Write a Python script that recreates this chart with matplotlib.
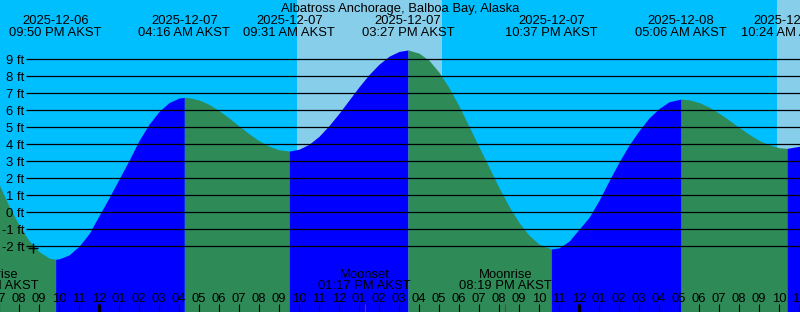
import numpy as np
import matplotlib
matplotlib.use('Agg')
import matplotlib.pyplot as plt
from matplotlib.transforms import blended_transform_factory

# Tide curve: hours since 2025-12-07 00:00 AKST, height in ft
curve_hours = [-5.0, -4.5, -4.0, -3.5, -3.0, -2.5, -2.167,
               -2.0, -1.5, -1.0, -0.5, 0.0, 0.5, 1.0, 1.5, 2.0, 2.5, 3.0, 3.5, 4.0, 4.267,
               4.5, 5.0, 5.5, 6.0, 6.5, 7.0, 7.5, 8.0, 8.5, 9.0, 9.517,
               10.0, 10.5, 11.0, 11.5, 12.0, 12.5, 13.0, 13.5, 14.0, 14.5, 15.0, 15.45,
               16.0, 16.5, 17.0, 17.5, 18.0, 18.5, 19.0, 19.5, 20.0, 20.5, 21.0, 21.5, 22.0, 22.617,
               23.0, 23.5, 24.0, 24.5, 25.0, 25.5, 26.0, 26.5, 27.0, 27.5, 28.0, 28.5, 29.1,
               29.5, 30.0, 30.5, 31.0, 31.5, 32.0, 32.5, 33.0, 33.5, 34.0, 34.4, 35.0, 35.5]
curve_feet = [1.64, 0.37, -0.75, -1.67, -2.31, -2.69, -2.76,
              -2.74, -2.51, -2.00, -1.26, -0.20, 0.85, 1.95, 3.05, 4.22, 5.18, 5.93, 6.45, 6.72, 6.76,
              6.74, 6.61, 6.35, 5.98, 5.55, 5.08, 4.62, 4.21, 3.89, 3.68, 3.60,
              3.71, 4.00, 4.47, 5.10, 5.82, 6.60, 7.38, 8.10, 8.71, 9.18, 9.46, 9.55,
              9.36, 8.94, 8.24, 7.33, 6.25, 5.05, 3.85, 2.65, 1.45, 0.35, -0.60, -1.35, -1.87, -2.16,
              -2.09, -1.70, -1.00, -0.30, 0.70, 1.85, 2.95, 3.95, 4.80, 5.55, 6.10, 6.50, 6.66,
              6.62, 6.46, 6.19, 5.83, 5.42, 5.00, 4.59, 4.23, 3.97, 3.80, 3.76, 3.88, 4.16]

# high / low tide events shown along the top
event_hours = [-2.167, 4.267, 9.517, 15.45, 22.617, 29.1, 34.4]
event_kind = ['low', 'high', 'low', 'high', 'low', 'high', 'low']
event_dates = ['2025-12-06', '2025-12-07', '2025-12-07', '2025-12-07',
               '2025-12-07', '2025-12-08', '2025-12-08']
event_times = ['09:50 PM AKST', '04:16 AM AKST', '09:31 AM AKST', '03:27 PM AKST',
               '10:37 PM AKST', '05:06 AM AKST', '10:24 AM AKST']

# moon events shown along the bottom
moon_names = ['Moonrise', 'Moonset', 'Moonrise']
moon_times = ['06:39 PM AKST', '01:17 PM AKST', '08:19 PM AKST']
moon_hours = [-5.35, 13.283, 20.317]

# daylight (sunrise, sunset)
day_spans = [(9.885, 17.135), (33.885, 40.0)]

# "now" marker
now_hour = -3.3
now_feet = -2.1

title = 'Albatross Anchorage, Balboa Bay, Alaska'
grid_feet = list(range(-2, 10))
hour_ticks = list(range(-5, 36))

# pixel layout of the 800x312 picture
W, H = 800, 312
X_MIDNIGHT = 99
PX_PER_HOUR = 20
Y_ZERO_FT = 212.3
PX_PER_FT = 17

NIGHT = '#00BFFF'
DAY = '#87CEEB'
RISING = '#0000FF'
FALLING = '#2E8B57'

plt.rcParams['font.family'] = ['Liberation Sans', 'DejaVu Sans']
FS = 9.4


def px_to_hour(x):
    return (x - X_MIDNIGHT) / PX_PER_HOUR


def px_to_ft(y):
    return (Y_ZERO_FT - y) / PX_PER_FT


def fy(y):
    """pixel row -> axes fraction"""
    return 1 - y / H


fig = plt.figure(figsize=(W / 100, H / 100), dpi=100)
ax = fig.add_axes([0, 0, 1, 1])
ax.set_xlim(px_to_hour(0), px_to_hour(W))
ax.set_ylim(px_to_ft(H), px_to_ft(0))
ax.set_facecolor(NIGHT)
ax.set_xticks([])
ax.set_yticks([])
for s in ax.spines.values():
    s.set_visible(False)
trans = blended_transform_factory(ax.transData, ax.transAxes)

# sky
for a, b in day_spans:
    ax.axvspan(a, b, color=DAY, lw=0, zorder=0)

# water, coloured by rising / falling
t = np.array(curve_hours)
h = np.array(curve_feet)
bottom = px_to_ft(H + 5)
edges = [t[0]] + event_hours + [t[-1]]
for i in range(len(edges) - 1):
    if i < len(event_kind):
        rising = event_kind[i] == 'high'
    else:
        rising = event_kind[-1] == 'low'
    m = (t >= edges[i]) & (t <= edges[i + 1])
    ax.fill_between(t[m], h[m], bottom, color=RISING if rising else FALLING,
                    lw=0, zorder=1, antialiased=True)

# depth lines and labels
for ft in grid_feet:
    ax.hlines(ft, px_to_hour(26), px_to_hour(W), colors='black', lw=0.9, zorder=2)
    ax.text(px_to_hour(24), ft - 4.7 / PX_PER_FT, f'{ft} ft', ha='right', va='baseline',
            fontsize=FS, zorder=3)

ax.plot([now_hour], [now_feet], marker='+', color='black', ms=7, mew=1.0, zorder=3)

# title and tide events
ax.text(0.5, fy(12), title, transform=ax.transAxes, ha='center', va='baseline', fontsize=FS)
for hr, d, tm in zip(event_hours, event_dates, event_times):
    ax.text(hr, fy(24), d, transform=trans, ha='center', va='baseline', fontsize=FS)
    ax.text(hr, fy(36), tm, transform=trans, ha='center', va='baseline', fontsize=FS)

# hour ticks
for hr in hour_ticks:
    hod = hr % 24
    lab = f'{(hod + 11) % 12 + 1:02d}'
    ax.text(hr, fy(302.3), lab, transform=trans, ha='center', va='baseline', fontsize=FS, zorder=3)
    lw = 2.2 if hod == 0 else 0.8
    ax.plot([hr, hr], [0, fy(304)], transform=trans, color='black', lw=lw,
            solid_capstyle='butt', zorder=3)

# moon events
for name, tm, hr in zip(moon_names, moon_times, moon_hours):
    ax.text(hr, fy(277.7), name, transform=trans, ha='center', va='baseline', fontsize=FS, zorder=3)
    ax.text(hr, fy(289.3), tm, transform=trans, ha='center', va='baseline', fontsize=FS, zorder=3)
    ax.plot([hr, hr], [0, fy(304)], transform=trans, color='red', lw=0.8,
            solid_capstyle='butt', zorder=3)

fig.savefig('out.png', dpi=100)
